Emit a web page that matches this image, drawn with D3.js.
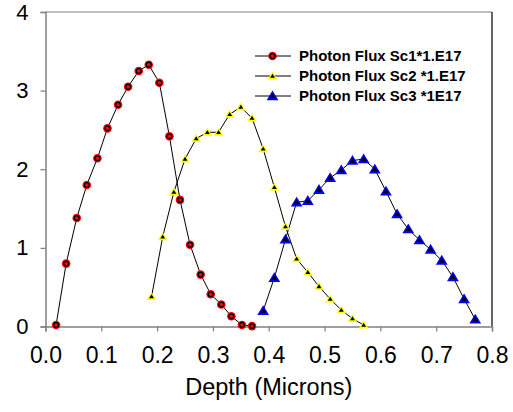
<!DOCTYPE html>
<html>
<head>
<meta charset="utf-8">
<script src="https://cdn.jsdelivr.net/npm/d3@7"></script>
<style>
  body { margin: 0; background: #fff; }
  svg { display: block; font-family: Arial, "Liberation Sans", sans-serif; }
</style>
</head>
<body>
<div id="chart"></div>
<script>
// depth (microns) and photon flux (x 1E17)
const depth1 = [0.019, 0.037, 0.056, 0.074, 0.093, 0.111, 0.130, 0.148, 0.167, 0.185,
                0.204, 0.222, 0.241, 0.259, 0.278, 0.296, 0.315, 0.333, 0.352, 0.370];
const flux1 = [0.02, 0.80, 1.38, 1.80, 2.14, 2.52, 2.82, 3.05, 3.25, 3.33,
               3.10, 2.42, 1.61, 1.04, 0.66, 0.41, 0.28, 0.13, 0.02, 0.005];

const depth2 = [0.19, 0.21, 0.23, 0.25, 0.27, 0.29, 0.31, 0.33, 0.35, 0.37,
                0.39, 0.41, 0.43, 0.45, 0.47, 0.49, 0.51, 0.53, 0.55, 0.57];
const flux2 = [0.38, 1.14, 1.71, 2.13, 2.39, 2.47, 2.47, 2.70, 2.79, 2.65,
               2.26, 1.77, 1.27, 0.86, 0.69, 0.51, 0.35, 0.21, 0.10, 0.02];

const depth3 = [0.39, 0.41, 0.43, 0.45, 0.47, 0.49, 0.51, 0.53, 0.55, 0.57,
                0.59, 0.61, 0.63, 0.65, 0.67, 0.69, 0.71, 0.73, 0.75, 0.77];
const flux3 = [0.20, 0.62, 1.11, 1.58, 1.60, 1.74, 1.89, 1.99, 2.11, 2.13,
               2.00, 1.72, 1.43, 1.24, 1.10, 0.98, 0.84, 0.63, 0.35, 0.09];

const seriesNames = ["Photon Flux Sc1*1.E17", "Photon Flux Sc2 *1.E17", "Photon Flux Sc3 *1E17"];
const xTicks = [0, 0.1, 0.2, 0.3, 0.4, 0.5, 0.6, 0.7, 0.8];
const yTicks = [0, 1, 2, 3, 4];
const xTitle = "Depth (Microns)";

const width = 513, height = 412;
const plotLeft = 45.5, plotRight = 492, plotTop = 12, plotBottom = 326.5;

const x = d3.scaleLinear().domain([0, 0.8]).range([plotLeft, plotRight]);
const y = d3.scaleLinear().domain([0, 4]).range([plotBottom, plotTop]);

const svg = d3.select("#chart").append("svg")
  .attr("width", width)
  .attr("height", height);

// plot frame
svg.append("line").attr("x1", plotLeft).attr("x2", plotRight).attr("y1", plotTop).attr("y2", plotTop)
  .attr("stroke", "#808080").attr("stroke-width", 1.2);
svg.append("line").attr("x1", plotRight).attr("x2", plotRight).attr("y1", plotTop).attr("y2", plotBottom)
  .attr("stroke", "#000").attr("stroke-width", 1.2);

// axes
const yAxis = svg.append("g")
  .attr("transform", `translate(${plotLeft},0)`)
  .call(d3.axisLeft(y).tickValues(yTicks).tickFormat(d3.format("d")).tickSize(5).tickPadding(12));
const xAxis = svg.append("g")
  .attr("transform", `translate(0,${plotBottom})`)
  .call(d3.axisBottom(x).tickValues(xTicks).tickFormat(d3.format(".1f")).tickSize(5).tickPadding(15));

[xAxis, yAxis].forEach(g => {
  g.select(".domain").attr("stroke", "#808080").attr("stroke-width", 1.5);
  g.selectAll(".tick line").attr("stroke", "#808080").attr("stroke-width", 1.2);
  g.selectAll(".tick text").attr("fill", "#000").attr("font-family", "Arial, 'Liberation Sans', sans-serif");
});
yAxis.selectAll(".tick text").attr("font-size", 22);
xAxis.selectAll(".tick text").attr("font-size", 23);

svg.append("text")
  .attr("x", (plotLeft + plotRight) / 2)
  .attr("y", 395)
  .attr("text-anchor", "middle")
  .attr("font-size", 23.5)
  .text(xTitle);

const line = d3.line().x(d => x(d[0])).y(d => y(d[1]));

const series = [
  { xs: depth1, ys: flux1, marker: "circle", color: "#ff0000" },
  { xs: depth2, ys: flux2, marker: "tri", color: "#ffff00", size: 4.6 },
  { xs: depth3, ys: flux3, marker: "tri", color: "#0000ff", size: 5.6 }
];

function triPath(s) {
  return `M0,${-s}L${s * 1.05},${s * 0.75}L${-s * 1.05},${s * 0.75}Z`;
}

function drawMarker(g, s) {
  if (s.marker === "circle") {
    g.append("circle").attr("r", 4.3).attr("fill", s.color);
    g.append("circle").attr("r", 2.4).attr("fill", s.color).attr("stroke", "#000").attr("stroke-width", 1.4);
  } else {
    g.append("path").attr("d", triPath(s.size)).attr("fill", s.color);
    g.append("path").attr("d", triPath(s.size * 0.5)).attr("fill", "#000");
  }
}

series.forEach(s => {
  const pts = s.xs.map((v, i) => [v, s.ys[i]]);
  svg.append("path")
    .datum(pts)
    .attr("d", line)
    .attr("fill", "none")
    .attr("stroke", "#000")
    .attr("stroke-width", 1);
});

series.forEach(s => {
  const pts = s.xs.map((v, i) => [v, s.ys[i]]);
  svg.append("g").selectAll("g")
    .data(pts)
    .enter().append("g")
    .attr("transform", d => `translate(${x(d[0])},${y(d[1])})`)
    .each(function() { drawMarker(d3.select(this), s); });
});

// legend
const legend = svg.append("g");
seriesNames.forEach((name, i) => {
  const ly = 56 + i * 20;
  legend.append("line").attr("x1", 255).attr("x2", 291).attr("y1", ly).attr("y2", ly)
    .attr("stroke", "#000").attr("stroke-width", 1);
  const m = legend.append("g").attr("transform", `translate(272.5,${ly})`);
  drawMarker(m, series[i]);
  legend.append("text")
    .attr("x", 299)
    .attr("y", ly + 5)
    .attr("font-size", 15)
    .attr("font-weight", "bold")
    .text(name);
});
</script>
</body>
</html>
